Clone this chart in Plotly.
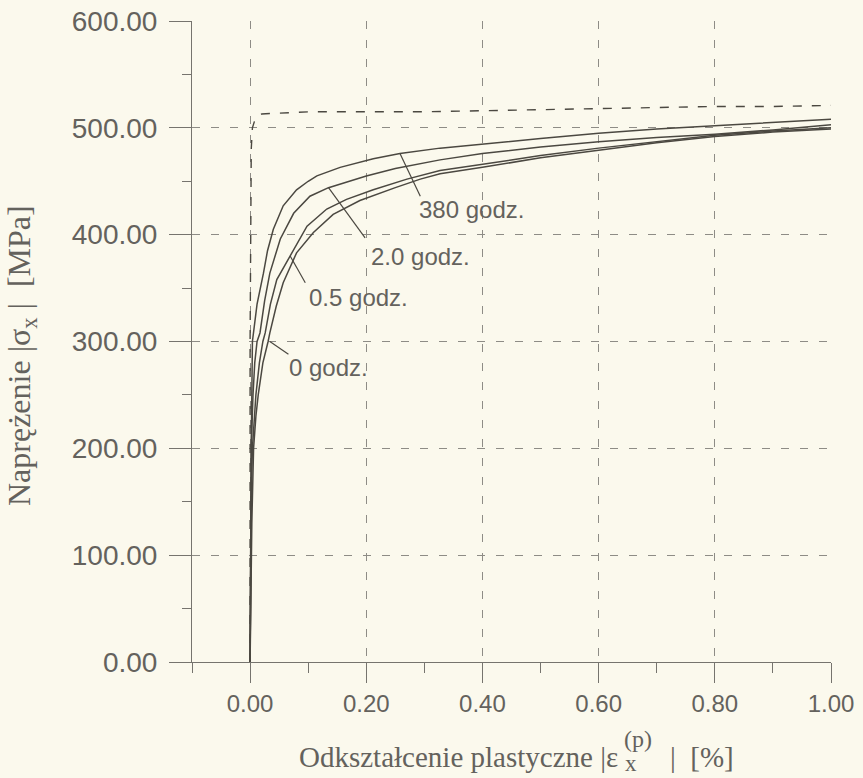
import plotly.graph_objects as go

# ---------------- data ----------------
c380_x = [0, 0.0005, 0.001, 0.002, 0.004, 0.006, 0.012, 0.023, 0.03, 0.04, 0.057, 0.08, 0.1, 0.115,
          0.155, 0.212, 0.258, 0.327, 0.4, 0.5, 0.6, 0.7, 0.8, 0.9, 1.0]
c380_y = [0, 100, 150, 200, 300, 308, 335, 364, 385, 405, 427, 442, 450, 455,
          463, 471, 476, 481, 485, 490, 495, 499, 502, 505, 508]

c20_x = [0, 0.001, 0.002, 0.005, 0.008, 0.012, 0.017, 0.025, 0.034, 0.052, 0.075, 0.103, 0.135,
         0.2, 0.25, 0.327, 0.4, 0.5, 0.6, 0.7, 0.8, 0.9, 1.0]
c20_y = [0, 100, 200, 250, 280, 300, 308, 338, 364, 396, 420, 436, 444,
         455, 462, 470, 476, 482, 487, 491, 494, 498, 503]

c05_x = [0, 0.001, 0.002, 0.004, 0.01, 0.016, 0.022, 0.026, 0.035, 0.046, 0.069, 0.098, 0.132,
         0.166, 0.212, 0.27, 0.327, 0.4, 0.5, 0.6, 0.7, 0.8, 0.9, 1.0]
c05_y = [0, 80, 150, 200, 250, 280, 300, 308, 335, 358, 380, 408, 424,
         433, 442, 452, 460, 466, 474, 481, 487, 493, 497, 500]

c0_x = [0, 0.001, 0.003, 0.006, 0.01, 0.014, 0.022, 0.031, 0.034, 0.045, 0.057, 0.08, 0.109,
        0.143, 0.189, 0.25, 0.293, 0.327, 0.4, 0.5, 0.6, 0.7, 0.8, 0.9, 1.0]
c0_y = [0, 60, 130, 200, 230, 250, 280, 300, 308, 333, 355, 383, 402,
        419, 432, 444, 452, 457, 463, 472, 479, 486, 492, 496, 499]

dash_x = [0, 0.0, 0.002, 0.004, 0.008, 0.013, 0.02, 0.05, 0.1, 0.2, 0.3, 0.4, 0.5, 0.6, 0.7,
          0.8, 0.9, 1.0]
dash_y = [0, 300, 480, 500, 507, 511, 513, 514, 515, 515, 515, 516, 517, 518, 519,
          520, 520, 521]

curve_labels = ["380 godz.", "2.0 godz.", "0.5 godz.", "0 godz."]
label_x = [0.287, 0.204, 0.0975, 0.064]
label_y = [424, 380, 341, 276]
# leader lines: point on curve -> point near label
leader_x0 = [0.258, 0.135, 0.069, 0.034]
leader_y0 = [476, 444, 380, 300]
leader_x1 = [0.293, 0.198, 0.095, 0.066]
leader_y1 = [436, 397, 355, 288]

x_ticks = [0.0, 0.2, 0.4, 0.6, 0.8, 1.0]
y_ticks = [0, 100, 200, 300, 400, 500, 600]

# ---------------- styles ----------------
BG = "#fbf9ed"
CURVE = "#4b4841"
GRID = "#8e8c86"
AXIS = "#76746e"
TXT = "#64625d"
SANS = "Liberation Sans, Arial, sans-serif"
SERIF = "Liberation Serif, Times New Roman, serif"

fig = go.Figure()
for xs, ys in [(c0_x, c0_y), (c05_x, c05_y), (c20_x, c20_y), (c380_x, c380_y)]:
    fig.add_trace(go.Scatter(x=xs, y=ys, mode="lines",
                             line=dict(color=CURVE, width=1.5),
                             showlegend=False, hoverinfo="skip"))
fig.add_trace(go.Scatter(x=dash_x, y=dash_y, mode="lines",
                         line=dict(color=CURVE, width=1.4, dash="9px,10px"),
                         showlegend=False, hoverinfo="skip"))

for x0, y0, x1, y1 in zip(leader_x0, leader_y0, leader_x1, leader_y1):
    fig.add_shape(type="line", xref="x", yref="y", x0=x0, y0=y0, x1=x1, y1=y1,
                  line=dict(color=CURVE, width=1.2))

for t, x, y in zip(curve_labels, label_x, label_y):
    fig.add_annotation(x=x, y=y, xref="x", yref="y", text=t, showarrow=False,
                       xanchor="left", yanchor="middle",
                       font=dict(family=SANS, size=24, color=TXT))

# axis titles
fig.add_annotation(xref="paper", yref="paper", x=0, y=0, xshift=297 - 192, yshift=-(757 - 662),
                   text="Odkształcenie plastyczne |ε", showarrow=False,
                   xanchor="left", yanchor="middle",
                   font=dict(family=SERIF, size=29, color=TXT))
fig.add_annotation(xref="paper", yref="paper", x=0, y=0, xshift=638 - 192, yshift=-(739 - 662),
                   text="(p)", showarrow=False, xanchor="center", yanchor="middle",
                   font=dict(family=SERIF, size=24, color=TXT))
fig.add_annotation(xref="paper", yref="paper", x=0, y=0, xshift=631 - 192, yshift=-(763 - 662),
                   text="x", showarrow=False, xanchor="center", yanchor="middle",
                   font=dict(family=SERIF, size=23, color=TXT))
fig.add_annotation(xref="paper", yref="paper", x=0, y=0, xshift=668 - 192, yshift=-(757 - 662),
                   text="|  [%]", showarrow=False, xanchor="left", yanchor="middle",
                   font=dict(family=SERIF, size=29, color=TXT))

fig.add_annotation(xref="paper", yref="paper", x=0, y=(662 - 356) / 641, xshift=22 - 192,
                   text="Naprężenie |σ<sub>x</sub> |  [MPa]", showarrow=False, textangle=-90,
                   xanchor="center", yanchor="middle",
                   font=dict(family=SERIF, size=32, color=TXT))

fig.update_layout(
    width=863, height=778,
    margin=dict(l=192, r=32, t=21, b=116),
    paper_bgcolor=BG, plot_bgcolor=BG,
    showlegend=False,
    xaxis=dict(range=[-0.1, 1.0], tickmode="array", tickvals=x_ticks,
               ticktext=[f"{v:.2f}" for v in x_ticks],
               ticks="outside", ticklen=20, tickwidth=1, tickcolor=AXIS,
               showline=True, linecolor=AXIS, linewidth=1,
               showgrid=True, gridcolor=GRID, gridwidth=1, griddash="8px,11px",
               zeroline=False, automargin=False,
               minor=dict(tickvals=[-0.1, 0.1, 0.3, 0.5, 0.7, 0.9], ticks="outside", ticklen=10,
                          tickcolor=AXIS, showgrid=False),
               tickfont=dict(family=SANS, size=24, color=TXT)),
    yaxis=dict(range=[0, 600], tickmode="array", tickvals=y_ticks,
               ticktext=[f"{v:.2f}" for v in y_ticks],
               ticks="outside", ticklen=22, tickwidth=1, tickcolor=AXIS,
               showline=True, linecolor=AXIS, linewidth=1,
               showgrid=True, gridcolor=GRID, gridwidth=1, griddash="8px,11px",
               zeroline=False, automargin=False, ticklabelstandoff=6,
               minor=dict(tickvals=[50, 150, 250, 350, 450, 550], ticks="outside", ticklen=9,
                          tickcolor=AXIS, showgrid=False),
               tickfont=dict(family=SANS, size=28, color=TXT)),
)

fig.write_html("out.html", config={"displayModeBar": False},
               post_script="document.body.style.margin='0';")
